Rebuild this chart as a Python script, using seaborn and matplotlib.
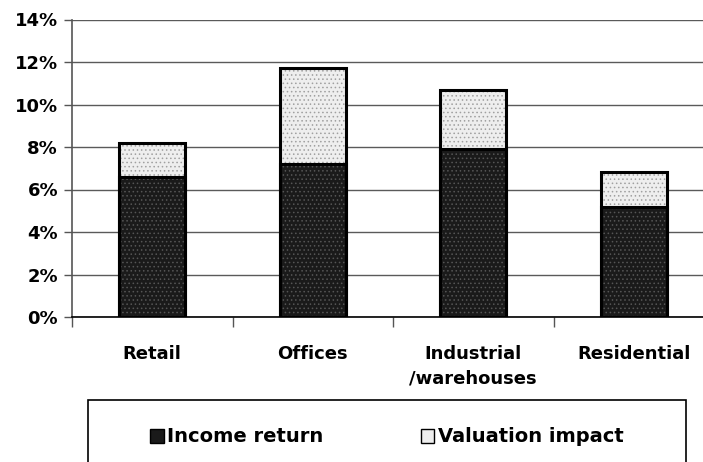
import matplotlib
matplotlib.use("Agg")
import matplotlib.pyplot as plt
import seaborn as sns
import pandas as pd
from matplotlib.patches import Patch, Rectangle
from matplotlib.ticker import FixedLocator, PercentFormatter

categories = ["Retail", "Offices", "Industrial\n/warehouses", "Residential"]
income_return = [6.6, 7.2, 7.9, 5.2]
valuation_impact = [1.6, 4.5, 2.8, 1.6]
y_ticks = [0, 2, 4, 6, 8, 10, 12, 14]
legend_labels = ["Income return", "Valuation impact"]

totals = [a + b for a, b in zip(income_return, valuation_impact)]
df = pd.DataFrame({"cat": categories, "income": income_return, "total": totals})

sns.set_style("white")
plt.rcParams["font.family"] = ["DejaVu Sans"]
plt.rcParams["font.weight"] = "bold"
plt.rcParams["hatch.linewidth"] = 0.6
plt.rcParams["text.color"] = "black"
plt.rcParams["xtick.color"] = "black"
plt.rcParams["ytick.color"] = "black"
plt.rcParams["xtick.labelcolor"] = "black"
plt.rcParams["ytick.labelcolor"] = "black"

fig = plt.figure(figsize=(7.03, 4.62), dpi=100)
ax = fig.add_axes([72/703, 1-317/462, 642/703, (317-19.5)/462])

light_face, light_hatch = "#eeeeee", "#a0a0a0"
dark_face, dark_hatch = "#1a1a1a", "#555555"
W = 0.41

# valuation (total) layer
sns.barplot(data=df, x="cat", y="total", color=light_face, width=W, ax=ax,
            saturation=1, linewidth=0, zorder=2)
n0 = len(ax.patches)
for p in ax.patches[:n0]:
    p.set_facecolor(light_face); p.set_edgecolor(light_hatch); p.set_hatch("....")
    p.set_linewidth(0)
# income layer
sns.barplot(data=df, x="cat", y="income", color=dark_face, width=W, ax=ax,
            saturation=1, linewidth=0, zorder=3)
n1 = len(ax.patches)
for p in ax.patches[n0:n1]:
    p.set_facecolor(dark_face); p.set_edgecolor(dark_hatch); p.set_hatch("....")
    p.set_linewidth(0)
# outlines
sns.barplot(data=df, x="cat", y="total", color="white", width=W, ax=ax,
            saturation=1, zorder=4)
n2 = len(ax.patches)
for p in ax.patches[n1:n2]:
    p.set_facecolor("none"); p.set_edgecolor("black"); p.set_linewidth(2.2); p.set_hatch(None)
sns.barplot(data=df, x="cat", y="income", color="white", width=W, ax=ax,
            saturation=1, zorder=5)
for p in ax.patches[n2:]:
    p.set_facecolor("none"); p.set_edgecolor("black"); p.set_linewidth(2.2); p.set_hatch(None)

ax.set_xlim(-0.5, len(categories) - 0.5)
ax.set_ylim(0, 14)
ax.set_yticks(y_ticks)
ax.yaxis.set_major_formatter(PercentFormatter(decimals=0))
ax.set_xlabel("")
ax.set_ylabel("")
ax.yaxis.grid(True, color="#5a5a5a", linewidth=1.0, zorder=0)
ax.set_axisbelow(True)

for s in ["top", "right"]:
    ax.spines[s].set_visible(False)
ax.spines["left"].set_color("#555555")
ax.spines["left"].set_linewidth(1.2)
ax.spines["bottom"].set_color("black")
ax.spines["bottom"].set_linewidth(1.2)

ax.tick_params(axis="y", which="major", length=6, width=1, color="#555555",
               labelsize=13, pad=4, left=True, direction="out", labelcolor="black")
ax.xaxis.set_minor_locator(FixedLocator([i - 0.5 for i in range(len(categories) + 1)]))
ax.tick_params(axis="x", which="minor", length=7, width=1, color="#555555",
               bottom=True, direction="out")
ax.tick_params(axis="x", which="major", length=0, labelsize=13, pad=20,
               labelcolor="black")
for lab in ax.get_xticklabels():
    lab.set_fontweight("bold")
    lab.set_linespacing(1.45)
    lab.set_verticalalignment("top")
for lab in ax.get_yticklabels():
    lab.set_fontweight("bold")

# legend frame
fig.patches.append(Rectangle((88/703, -0.05), 598/703, 1 - 400/462 + 0.05,
                             transform=fig.transFigure, facecolor="white",
                             edgecolor="black", linewidth=1.2, zorder=1))
handles = [Patch(facecolor=dark_face, edgecolor="black", linewidth=1),
           Patch(facecolor=light_face, edgecolor="black", linewidth=1)]
leg = fig.legend(handles, legend_labels, loc="center", ncol=2,
                 bbox_to_anchor=(387/703, 1 - 437/462), frameon=False,
                 prop={"size": 14, "weight": "bold"}, handlelength=0.7,
                 handleheight=0.7, handletextpad=0.2, columnspacing=5.0,
                 labelcolor="black")
leg.set_zorder(5)

fig.savefig("out.png", dpi=100)
